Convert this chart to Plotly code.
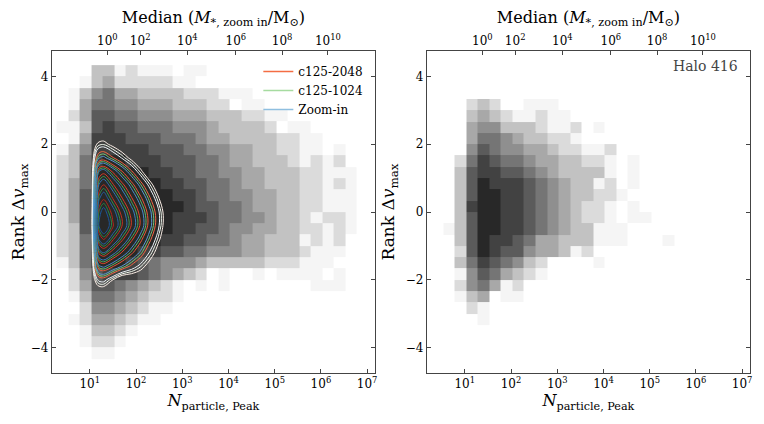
import numpy as np
import plotly.graph_objects as go

# histogram bins: log10(N_particle,Peak) and Rank dv_max
bin_start = 0.28
bin_width = 0.25
row_height = 1 / 3

# grey level per cell, 0 = empty ... 9 = darkest, rows listed from the top down
# left panel: all runs, 26 columns x 26 rows (+4.33 .. -4.33)
hist_all = [
    "00033121110110000000000000",
    "00134222221100000000000000",
    "01356443333222111000000000",
    "01466554443332201100000000",
    "02477665554443332211000000",
    "11378776665554333320110000",
    "01488877766654433332211000",
    "13588888777665544332211010",
    "23689988877766544333212120",
    "23699999887766554433322111",
    "24699999988776654433322121",
    "24799999998876655443322111",
    "24799999999877665443322111",
    "24799999998887665543321221",
    "23799999998877655443322121",
    "23699999988776654433312120",
    "23699998877665554433321110",
    "13699987655543333322211100",
    "02578887654320100101111010",
    "02477654321010100000001110",
    "01366543221000000000000000",
    "00255432110000000000000000",
    "01244321100000000000000000",
    "00133210000000000000000000",
    "00122100000000000000000000",
    "00011000000000000000000000",
]

# right panel: Halo 416, 21 columns x 20 rows (+3.33 .. -3.33)
hist_416 = [
    "000232001110000000000",
    "000343211211000000000",
    "000455333211201000000",
    "000466543322100000000",
    "000576554432211200000",
    "002687665443322101000",
    "003788776543333101000",
    "003798887654331201000",
    "003799887654332210000",
    "003899887654322101000",
    "003799887654322101100",
    "013799887654331110000",
    "003798876443331110001",
    "002798775443120000000",
    "003687653200001000000",
    "001576432100000000000",
    "002564120000000000000",
    "001340110000000000000",
    "000210000000000000000",
    "000010000000000000000",
]

# density of the runs (contour field)
contour_logn = [0.9, 1.0, 1.05, 1.1, 1.15, 1.2, 1.3, 1.5, 1.7, 1.9, 2.1, 2.3, 2.5, 2.7, 2.9, 3.1]
contour_dv = [-2.4, -2.0, -1.6, -1.2, -0.8, -0.4, 0.0, 0.4, 0.8, 1.2, 1.6, 2.0, 2.4]
contour_density = [
    [0, 0, 0, 0, 0, 0, 0, 0, 0, 0, 0, 0, 0, 0, 0, 0],
    [0, 0, 0.2, 0.9, 1.5, 1.9, 2.0, 1.0, 0, 0, 0, 0, 0, 0, 0, 0],
    [0, 0, 0.47, 2.1, 3.5, 4.4, 4.7, 3.88, 3.06, 2.23, 1.41, 0.5, 0, 0, 0, 0],
    [0, 0, 0.73, 3.3, 5.5, 6.8, 7.3, 6.2, 5.11, 4.01, 2.92, 1.6, 0.4, 0, 0, 0],
    [0, 0, 0.95, 4.3, 7.1, 8.8, 9.5, 8.14, 6.78, 5.42, 4.06, 2.6, 1.1, 0, 0, 0],
    [0, 0, 1.1, 5.0, 8.3, 10.2, 11.0, 9.52, 8.04, 6.56, 5.07, 3.4, 1.7, 0, 0, 0],
    [0, 0, 1.05, 4.7, 7.9, 9.8, 10.5, 9.09, 7.68, 6.28, 4.87, 3.3, 1.7, 0, 0, 0],
    [0, 0, 0.93, 4.2, 7.0, 8.6, 9.3, 7.97, 6.64, 5.32, 3.99, 2.5, 1.0, 0, 0, 0],
    [0, 0, 0.8, 3.6, 6.0, 7.4, 8.0, 6.73, 5.45, 4.18, 2.8, 1.4, 0.1, 0, 0, 0],
    [0, 0, 0.63, 2.8, 4.7, 5.9, 6.3, 5.05, 3.8, 2.5, 1.2, 0, 0, 0, 0, 0],
    [0, 0, 0.33, 1.5, 2.5, 3.07, 3.3, 2.46, 1.6, 0.7, 0, 0, 0, 0, 0, 0],
    [0, 0, 0.13, 0.6, 1.0, 1.2, 1.3, 0.7, 0.1, 0, 0, 0, 0, 0, 0, 0],
    [0, 0, 0, 0, 0, 0, 0, 0, 0, 0, 0, 0, 0, 0, 0, 0],
]

runs = ["c125-2048", "c125-1024", "Zoom-in"]
run_colors = ["#f46d43", "#a6dba0", "#8fbfe0"]
run_scales = [
    [[0, "#fbeee6"], [0.15, "#f26a45"], [0.5, "#e4492b"], [1, "#b3261a"]],
    [[0, "#f1f9ee"], [0.15, "#7cc67a"], [0.5, "#4fa658"], [1, "#2a8444"]],
    [[0, "#edf4fa"], [0.15, "#5c9fd4"], [0.5, "#3a7fbf"], [1, "#1b5597"]],
]
level_offset = [1.0, 1.35, 1.7]
level_step = 1.4
n_levels = 7

# top axis: median stellar mass of the zoom-in, placed at N_particle,Peak
median_logn = [1.38, 2.09, 3.11, 4.16, 5.16, 6.15]
median_labels = ["10<sup>0</sup>", "10<sup>2</sup>", "10<sup>4</sup>",
                 "10<sup>6</sup>", "10<sup>8</sup>", "10<sup>10</sup>"]
n_ticks = [1, 2, 3, 4, 5, 6, 7]


def grid(rows):
    z = np.array([[int(c) for c in r] for r in rows], dtype=float)
    z[z == 0] = np.nan
    return z[::-1]


def edges(ncol, nrow):
    xe = 10 ** (bin_start + bin_width * np.arange(ncol + 1))
    ye = row_height * (np.arange(nrow + 1) - nrow / 2)
    return xe, ye


greys = [[0, "rgb(245,245,245)"], [1, "rgb(40,40,40)"]]

fig = go.Figure()

z_all = grid(hist_all)
xe, ye = edges(z_all.shape[1], z_all.shape[0])
fig.add_trace(go.Heatmap(x=xe, y=ye, z=z_all, colorscale=greys, zmin=1, zmax=9,
                         showscale=False, hoverinfo="skip", xaxis="x", yaxis="y"))

for name, cs, off in zip(runs, run_scales, level_offset):
    top = off + (n_levels - 1) * level_step
    fig.add_trace(go.Contour(
        x=10 ** np.array(contour_logn), y=contour_dv, z=contour_density,
        autocontour=False,
        contours=dict(coloring="lines", start=off, end=top, size=level_step),
        line=dict(width=1.0, smoothing=1.0), colorscale=cs, showscale=False,
        showlegend=False, hoverinfo="skip", xaxis="x", yaxis="y"))

for name, col in zip(runs, run_colors):
    fig.add_trace(go.Scatter(x=[None], y=[None], mode="lines", name=name,
                             line=dict(color=col, width=1.5), xaxis="x", yaxis="y"))

z_416 = grid(hist_416)
xe, ye = edges(z_416.shape[1], z_416.shape[0])
fig.add_trace(go.Heatmap(x=xe, y=ye, z=z_416, colorscale=greys, zmin=1, zmax=9,
                         showscale=False, hoverinfo="skip", xaxis="x2", yaxis="y2"))

# empty traces so the top (median) axes get drawn
for xa, ya in [("x3", "y"), ("x4", "y2")]:
    fig.add_trace(go.Scatter(x=[None], y=[None], xaxis=xa, yaxis=ya,
                             showlegend=False, hoverinfo="skip"))

font = "DejaVu Serif"
axis_common = dict(showline=True, linecolor="#444", linewidth=1, ticks="inside",
                   ticklen=4, tickcolor="#444", showgrid=False, zeroline=False,
                   tickfont=dict(family=font, size=12, color="black"))
x_common = dict(axis_common, type="log", range=[0.18, 7.17],
                tickvals=[10 ** k for k in n_ticks],
                ticktext=["10<sup>%d</sup>" % k for k in n_ticks],
                title=dict(text="<i>N</i><sub>particle, Peak</sub>", font=dict(size=16), standoff=4))
top_common = dict(axis_common, type="log", range=[0.18, 7.17], side="top",
                  tickvals=[10 ** v for v in median_logn], ticktext=median_labels,
                  title=dict(text="Median (<i>M</i><sub>*, zoom in</sub>/M<sub>⊙</sub>)",
                             font=dict(size=16), standoff=4))
y_common = dict(axis_common, range=[-4.75, 4.75], tickvals=[-4, -2, 0, 2, 4], mirror="ticks",
                title=dict(text="Rank Δ<i>v</i><sub>max</sub>", font=dict(size=17), standoff=6))

# page body adds 8 px around the figure
W, H, off = 748, 408, 8
left = [(52 - off) / W, (376 - off) / W]
right = [(428 - off) / W, (752 - off) / W]
ydom = [1 - (373 - off) / H, 1 - (51 - off) / H]

fig.update_layout(
    width=W, height=H,
    margin=dict(l=0, r=0, t=0, b=0),
    paper_bgcolor="white", plot_bgcolor="white",
    font=dict(family=font, color="black"),
    xaxis=dict(x_common, domain=left, anchor="y"),
    yaxis=dict(y_common, domain=ydom, anchor="x"),
    xaxis3=dict(top_common, overlaying="x", anchor="y"),
    xaxis2=dict(x_common, domain=right, anchor="y2"),
    yaxis2=dict(y_common, domain=ydom, anchor="x2"),
    xaxis4=dict(top_common, overlaying="x2", anchor="y2"),
    legend=dict(x=(259 - off) / W, y=1 - (57 - off) / H, xanchor="left", yanchor="top",
                bgcolor="rgba(0,0,0,0)", font=dict(size=12), tracegroupgap=0),
    annotations=[dict(text="Halo 416", x=(742 - off) / W, y=1 - (66 - off) / H,
                      xref="paper", yref="paper", xanchor="right", yanchor="middle",
                      showarrow=False, font=dict(size=14, color="#444"))],
)

fig.write_html("out.html")
